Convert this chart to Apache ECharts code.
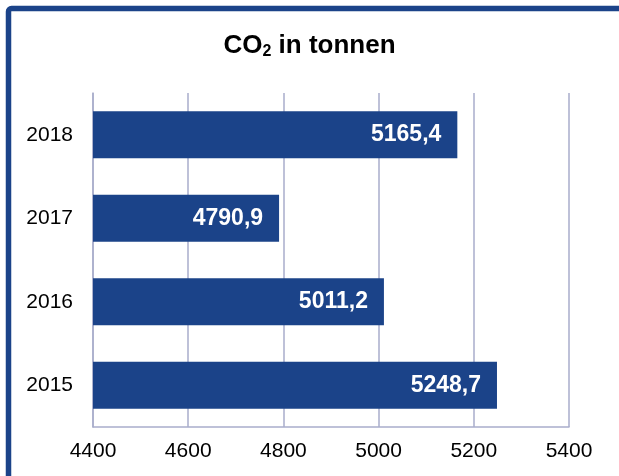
<!DOCTYPE html>
<html><head><meta charset="utf-8">
<script src="https://cdn.jsdelivr.net/npm/echarts@6/dist/echarts.min.js"></script>
<style>html,body{margin:0;padding:0;background:#fff}#c{width:619px;height:476px}</style>
</head><body><div id="c"></div>
<script>
const categories = ['2015', '2016', '2017', '2018'];
const values = [5248.7, 5011.2, 4790.9, 5165.4];
const xTicks = [4400, 4600, 4800, 5000, 5200, 5400];

const chart = echarts.init(document.getElementById('c'), null, {renderer: 'canvas'});
const gridColor = '#A9ADCB';
const ff = 'Liberation Sans, Arial';
chart.setOption({
  animation: false,
  backgroundColor: '#fff',
  title: {
    text: '{b|CO}{s|2}{b| in tonnen}',
    left: 'center', top: 27,
    textStyle: {
      rich: {
        b: {fontFamily: ff, fontWeight: 'bold', fontSize: 26, color: '#000'},
        s: {fontFamily: ff, fontWeight: 'bold', fontSize: 16, color: '#000', padding: [12, 0, 0, 0]}
      }
    }
  },
  graphic: [{
    type: 'rect', silent: true, z: 100,
    shape: {x: 8.5, y: 8.5, width: 700, height: 600, r: 3},
    style: {fill: 'none', stroke: '#1B4389', lineWidth: 5.5}
  }],
  grid: {left: 93, right: 50, top: 93, bottom: 49, containLabel: false},
  xAxis: {
    type: 'value', min: xTicks[0], max: xTicks[xTicks.length - 1], interval: 200,
    axisLine: {show: true, lineStyle: {color: gridColor, width: 1.5}},
    axisTick: {show: false},
    splitLine: {show: true, lineStyle: {color: gridColor, width: 1.5}},
    axisLabel: {color: '#000', fontSize: 21, fontFamily: ff, margin: 14, formatter: v => String(v)}
  },
  yAxis: {
    type: 'category', data: categories,
    axisLine: {show: true, lineStyle: {color: gridColor, width: 1.5}},
    axisTick: {show: false},
    axisLabel: {color: '#000', fontSize: 21, fontFamily: ff, margin: 20}
  },
  series: [{
    type: 'bar', data: values, barWidth: '56%',
    itemStyle: {color: '#1B4389'},
    label: {
      show: true, position: 'insideRight', distance: 16,
      color: '#fff', fontWeight: 'bold', fontSize: 23, fontFamily: ff,
      formatter: p => p.value.toFixed(1).replace('.', ',')
    }
  }]
});
</script></body></html>
